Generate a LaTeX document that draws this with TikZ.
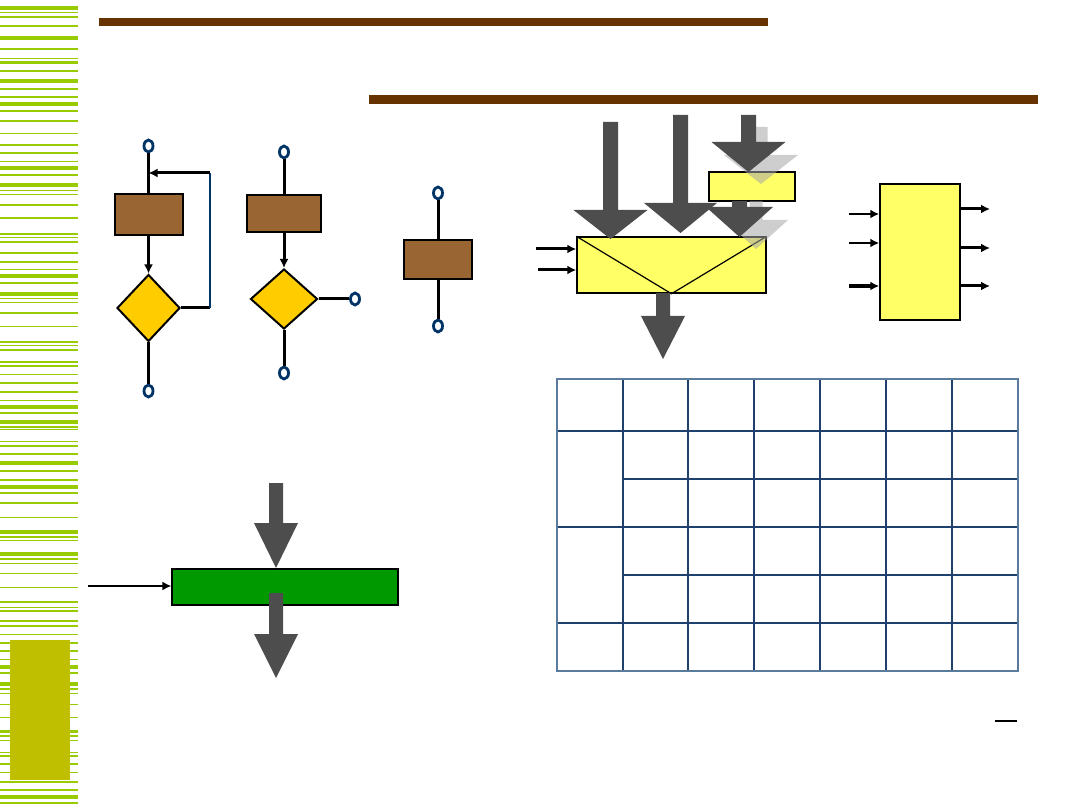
\documentclass[tikz,border=0pt]{standalone}
\usepackage{tikz}
\usepackage{xcolor}
\usetikzlibrary{arrows.meta,positioning,calc,shapes.geometric}
\definecolor{stripegreen}{HTML}{99CC00}
\definecolor{rulebrown}{HTML}{663300}
\definecolor{tabolive}{HTML}{BFBF00}
\definecolor{boxbrown}{HTML}{996633}
\definecolor{testgold}{HTML}{FFCC00}
\definecolor{termnavy}{HTML}{003366}
\definecolor{flowyellow}{HTML}{FFFF66}
\definecolor{arrowgray}{HTML}{4D4D4D}
\definecolor{shadowgray}{HTML}{A6A6A6}
\definecolor{barinkgreen}{HTML}{009900}
\definecolor{gridnavy}{HTML}{1F406E}
\definecolor{gridframe}{HTML}{5A7B9C}
\tikzset{
  procbox/.style={
    draw=black,
    fill=boxbrown,
    line width=2pt,
    inner sep=0pt
  },
  testbox/.style={
    diamond,
    draw=black,
    fill=testgold,
    line width=2pt,
    inner sep=0pt
  },
  termdot/.style={
    ellipse,
    draw=termnavy,
    fill=white,
    line width=2.8pt,
    minimum width=9pt,
    minimum height=12pt,
    inner sep=0pt
  },
  flowbox/.style={
    draw=black,
    fill=flowyellow,
    line width=1.5pt,
    inner sep=0pt
  },
  flowline/.style={line width=3pt, draw=black},
  flowarrow/.style={-{Latex[length=9pt,width=9pt]}, line width=3pt, draw=black},
  thinarrow/.style={-{Latex[length=9pt,width=9pt]}, line width=2pt, draw=black},
  loopline/.style={line width=2.5pt, draw=termnavy},
  gridline/.style={line width=1.3pt, draw=gridnavy}
}
% fat block arrow: [colour]{cx}{top}{head base}{tip}{half shaft}{half head}
\newcommand{\fatarrow}[7][arrowgray]{%
  \fill[#1] ({#2-#6},#3) -- ({#2+#6},#3) -- ({#2+#6},#4) -- ({#2+#7},#4)
    -- (#2,#5) -- ({#2-#7},#4) -- ({#2-#6},#4) -- cycle;}

\begin{document}
\begin{tikzpicture}[x=1pt, y=-1pt]
\useasboundingbox (0,0) rectangle (1080,810);

% side stripes
\foreach \y/\w in {8/3.5, 13/1, 17/2, 26/2, 38/3.5, 49/2.5, 59/1, 63/3, 71/2, 81/3.5,
  89/2.5, 97/2, 104/3.5, 111/2, 121/2, 134/1, 145/2.5, 153/2, 162/1, 168/3.5,
  175/2, 185/3.5, 191/1, 195/1, 205/2, 218/2, 234/2.5, 238/1, 242/2, 253/2.5,
  262/2, 270/1, 276/3.5, 283/2, 294/3.5, 299/1, 303/1, 313/2, 327/1, 342/2.5,
  346/1, 350/2, 362/2.5, 366/2, 375/1, 383/2.5, 392/2, 401/1, 407/3.5, 413/2,
  422/3.5, 427/2, 430/1, 442/1, 446/2, 454/2, 463/3.5, 471/2.5, 480/1, 487/3.5,
  493/2, 503/2, 517/1, 532/3.5, 537/2, 540/1, 554/3.5, 559/2, 563/1, 573/1,
  587/1, 602/2.5, 607/1, 611/2, 621/2, 626/2, 634/1, 643/2.5, 651/2, 659/1,
  667/3.5, 673/2, 684/3.5, 689/2, 693/1, 704/1, 717/1, 731/3, 736/2, 740/1,
  752/1, 756/2, 764/2, 772/1, 782/2.5, 790/2, 797/3.5, 803/2}
  \draw[stripegreen, line width=\w pt] (0,\y) -- (78,\y);
\fill[tabolive] (10,640) rectangle (70,780);

% title rules
\fill[rulebrown] (99,18) rectangle (768,26);
\fill[rulebrown] (369,95) rectangle (1038,104);

% loop with test at the bottom
\node[termdot] (ta1) at (148.5,146) {};
\node[procbox, minimum width=68pt, minimum height=41pt] (pa) at (148.5,214.5) {};
\node[testbox, minimum width=63pt, minimum height=67pt] (da) at (148.5,308) {};
\node[termdot] (ta2) at (148.5,391) {};
\coordinate (la1) at (210,308);
\coordinate (la2) at (210,173);
\coordinate (la3) at (148.5,173);
\draw[flowline] (ta1) -- (pa);
\draw[flowarrow] (pa) -- (da);
\draw[flowline] (da) -- (ta2);
\draw[flowline] (da.east) -- (la1);
\draw[loopline] (la1) -- (la2);
\draw[flowarrow] (la2) -- (la3);

% step and test with two exits
\node[termdot] (tb1) at (284,152) {};
\node[procbox, minimum width=74pt, minimum height=37pt] (pb) at (284,213.5) {};
\node[testbox, minimum width=67pt, minimum height=60pt] (db) at (284,299) {};
\node[termdot] (tb2) at (355,299) {};
\node[termdot] (tb3) at (284,373) {};
\draw[flowline] (tb1) -- (pb);
\draw[flowarrow] (pb) -- (db);
\draw[flowline] (db) -- (tb2);
\draw[flowline] (db) -- (tb3);

% single step
\node[termdot] (tc1) at (438,193) {};
\node[procbox, minimum width=68pt, minimum height=39pt] (pc) at (438,259.5) {};
\node[termdot] (tc2) at (438,326) {};
\draw[flowline] (tc1) -- (pc);
\draw[flowline] (pc) -- (tc2);

% mixing block
\node[flowbox, minimum width=189pt, minimum height=56pt] (mix) at (671.5,265) {};
\draw[line width=1.2pt] (mix.north west) -- (mix.south) -- (mix.north east);
\node[flowbox, minimum width=86pt, minimum height=29pt] (feed) at (752,186.5) {};
\fatarrow[shadowgray, opacity=0.55]{761}{127}{155}{184}{6.5}{37}
\fatarrow[shadowgray, opacity=0.55]{756}{201}{220}{249}{6.5}{32}
\fatarrow{610.5}{122}{210}{239}{7.5}{37}
\fatarrow{680.5}{115}{203}{233}{7.5}{36.5}
\fatarrow{748.5}{115}{142}{172}{7.5}{37}
\fatarrow{739.5}{201}{207}{237}{7.5}{33.5}
\fatarrow{663}{293}{316}{359}{7}{22}
\coordinate (ma1) at (536,249);
\coordinate (ma2) at (538,270);
\draw[flowarrow] (ma1) -- (ma1 -| mix.west);
\draw[flowarrow] (ma2) -- (ma2 -| mix.west);

% unit with three inputs and three outputs
\node[flowbox, minimum width=80pt, minimum height=136pt] (unit) at (920,252) {};
\foreach \y/\w [count=\i] in {214/2.5, 243/2.5, 286/3.5} {
  \coordinate (ui\i) at (849,\y);
  \draw[-{Latex[length=9pt,width=9pt]}, line width=\w pt] (ui\i) -- (ui\i -| unit.west);
}
\foreach \y [count=\i] in {209, 248, 286} {
  \coordinate (uo\i) at (990,\y);
  \draw[flowarrow] (uo\i -| unit.east) -- (uo\i);
}

% bar with flow through
\node[draw=black, fill=barinkgreen, line width=1.2pt, minimum width=226pt, minimum height=36pt, inner sep=0pt] (bar) at (285,587) {};
\fatarrow{276}{483}{523}{568}{7}{22}
\fatarrow{276}{593}{634}{678}{7}{22}
\coordinate (bin) at (88,586);
\draw[thinarrow] (bin) -- (bin -| bar.west);

% grid
\foreach \x in {623,688,754,820,886,952}
  \draw[gridline] (\x,379) -- (\x,671);
\foreach \y in {431,527,623}
  \draw[gridline] (557,\y) -- (1018,\y);
\foreach \y in {479,575}
  \draw[gridline] (623,\y) -- (1018,\y);
\draw[line width=2.2pt, draw=gridframe] (557,379) rectangle (1018,671);

\draw[line width=2pt] (995,721) -- (1017,721);
\end{tikzpicture}
\end{document}
